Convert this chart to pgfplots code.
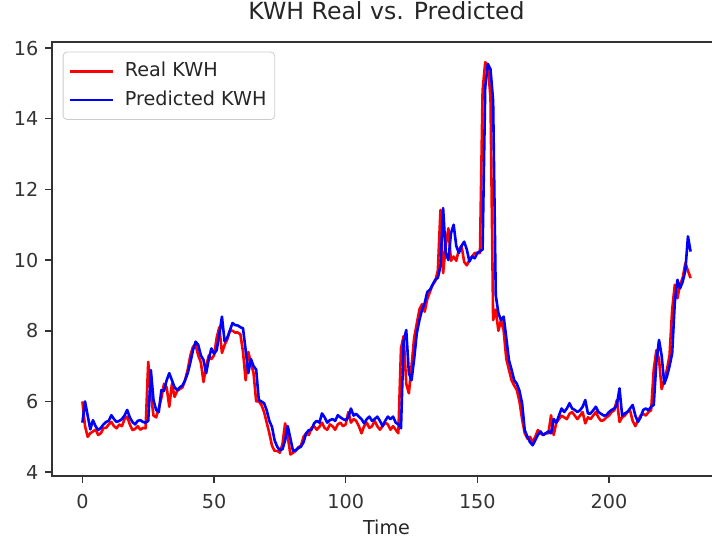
\documentclass[border=0pt]{standalone}
\usepackage{pgfplots}
\pgfplotsset{compat=1.18}
\usepackage{pgfplotstable}
\usepackage{fontspec}
\setmainfont{DejaVu Sans}
\pgfplotstableread{
t real pred
0 6.00 5.40
1 5.30 6.00
2 5.00 5.60
3 5.10 5.21
4 5.15 5.47
5 5.20 5.30
6 5.05 5.19
7 5.10 5.25
8 5.25 5.35
9 5.25 5.42
10 5.35 5.45
11 5.42 5.61
12 5.30 5.50
13 5.24 5.42
14 5.35 5.45
15 5.30 5.50
16 5.50 5.60
17 5.57 5.76
18 5.35 5.55
19 5.19 5.42
20 5.22 5.35
21 5.30 5.45
22 5.20 5.47
23 5.25 5.42
24 5.24 5.40
25 7.12 5.45
26 6.20 6.89
27 5.60 6.04
28 5.55 5.76
29 5.80 5.70
30 6.10 6.32
31 6.50 6.30
32 6.40 6.60
33 5.85 6.80
34 6.50 6.60
35 6.13 6.40
36 6.30 6.32
37 6.35 6.40
38 6.40 6.45
39 6.60 6.60
40 6.90 6.80
41 7.30 7.10
42 7.55 7.45
43 7.60 7.69
44 7.30 7.60
45 7.10 7.30
46 6.55 7.17
47 7.00 6.80
48 7.30 7.20
49 7.20 7.50
50 7.30 7.35
51 7.80 7.45
52 8.10 7.90
53 7.37 8.40
54 7.60 7.70
55 7.75 7.80
56 8.00 8.00
57 8.00 8.22
58 7.95 8.16
59 7.95 8.15
60 7.90 8.10
61 7.40 8.07
62 6.60 7.45
63 7.40 6.80
64 7.10 7.20
65 6.80 7.00
66 6.00 6.90
67 6.00 6.04
68 5.90 6.00
69 5.70 5.95
70 5.40 5.75
71 5.10 5.45
72 4.75 5.28
73 4.60 4.90
74 4.60 4.72
75 4.55 4.62
76 4.80 4.65
77 5.38 4.90
78 5.00 5.30
79 4.50 4.95
80 4.55 4.60
81 4.60 4.62
82 4.70 4.68
83 4.75 4.72
84 5.00 4.85
85 5.10 5.10
86 5.05 5.19
87 5.25 5.20
88 5.30 5.38
89 5.20 5.45
90 5.28 5.40
91 5.40 5.66
92 5.25 5.55
93 5.20 5.40
94 5.35 5.47
95 5.30 5.50
96 5.20 5.45
97 5.35 5.61
98 5.40 5.55
99 5.30 5.50
100 5.35 5.47
101 5.70 5.55
102 5.40 5.80
103 5.50 5.60
104 5.45 5.65
105 5.30 5.57
106 5.10 5.50
107 5.30 5.38
108 5.40 5.50
109 5.25 5.57
110 5.30 5.45
111 5.45 5.50
112 5.30 5.57
113 5.20 5.45
114 5.30 5.30
115 5.40 5.45
116 5.35 5.57
117 5.20 5.50
118 5.30 5.57
119 5.20 5.40
120 5.10 5.35
121 7.50 5.24
122 7.85 7.70
123 6.50 8.02
124 6.23 6.80
125 7.00 6.60
126 7.80 7.20
127 8.20 7.93
128 8.60 8.30
129 8.75 8.60
130 8.54 8.78
131 8.90 9.10
132 9.10 9.16
133 9.30 9.30
134 9.40 9.44
135 9.70 9.50
136 11.42 9.82
137 9.63 11.47
138 10.40 10.20
139 10.90 10.00
140 9.98 10.76
141 10.10 11.00
142 9.98 10.40
143 10.30 10.20
144 10.40 10.40
145 9.95 10.52
146 9.85 10.30
147 10.00 9.96
148 10.10 10.10
149 10.20 10.05
150 10.20 10.20
151 10.20 10.25
152 14.80 10.30
153 15.60 14.90
154 15.50 15.55
155 14.60 15.40
156 8.30 14.50
157 8.60 9.00
158 8.00 8.50
159 8.30 8.30
160 8.00 8.40
161 7.20 7.80
162 6.90 7.17
163 6.60 6.90
164 6.45 6.60
165 6.32 6.50
166 6.00 6.30
167 5.50 5.95
168 5.10 5.19
169 4.95 5.00
170 5.00 4.85
171 4.85 4.76
172 5.00 4.90
173 5.19 5.05
174 5.10 5.15
175 5.05 5.05
176 5.10 5.10
177 5.10 5.15
178 5.61 5.10
179 5.05 5.50
180 5.40 5.40
181 5.50 5.60
182 5.60 5.80
183 5.55 5.70
184 5.50 5.80
185 5.65 5.95
186 5.70 5.80
187 5.60 5.76
188 5.50 5.70
189 5.60 5.75
190 5.70 5.85
191 5.38 6.04
192 5.55 5.66
193 5.50 5.66
194 5.60 5.75
195 5.70 5.85
196 5.55 5.70
197 5.45 5.65
198 5.47 5.60
199 5.55 5.61
200 5.60 5.70
201 5.70 5.76
202 5.75 5.80
203 6.04 5.90
204 5.42 6.37
205 5.55 5.60
206 5.60 5.66
207 5.70 5.70
208 5.75 5.80
209 5.45 5.90
210 5.30 5.60
211 5.45 5.42
212 5.60 5.55
213 5.65 5.76
214 5.60 5.80
215 5.70 5.75
216 5.75 5.85
217 6.90 5.90
218 7.45 7.10
219 7.20 7.74
220 6.35 7.30
221 6.60 6.50
222 6.90 6.70
223 7.30 7.00
224 8.60 7.36
225 9.30 8.80
226 8.92 9.44
227 9.30 9.20
228 9.50 9.39
229 9.91 9.70
230 9.70 10.67
231 9.49 10.24
}\kwh
\begin{document}
\begin{tikzpicture}
\begin{axis}[
  scale only axis,
  width=334.5pt, height=217pt,
  xmin=-11.55, xmax=242.55,
  ymin=3.89, ymax=16.17,
  xtick={0,50,100,150,200},
  ytick={4,6,8,10,12,14,16},
  tick align=outside,
  xtick pos=lower, ytick pos=lower,
  major tick length=3.35pt,
  tick style={black!80, line width=0.75pt},
  axis line style={black!80, line width=0.75pt},
  /pgf/number format/assume math mode=true,
  ticklabel style={font=\fontsize{9.6}{11}\selectfont, text=black!80},
  xticklabel style={yshift=-2pt},
  title={KWH Real vs. Predicted},
  title style={font=\fontsize{11.8}{13}\selectfont, text=black!85, at={(0.5,1)}, anchor=base, yshift=5.2pt},
  xlabel={Time},
  xlabel style={font=\fontsize{9.6}{11}\selectfont, text=black!85, at={(0.5,0)}, anchor=base, yshift=-29pt},
  legend style={at={(0.016,0.978)}, anchor=north west, draw=black!20, rounded corners=2pt, fill=white,
    font=\fontsize{9.6}{11}\selectfont, text=black!85, inner xsep=2.6pt, inner ysep=3.2pt, row sep=1.4pt,
    nodes={inner sep=1.5pt, text depth=0.25em, text height=0.75em}},
  legend cell align=left,
  legend image code/.code={\draw[#1] (0pt,0pt) -- (21.5pt,0pt); \path (25.5pt,0pt);},
]
\addplot[red, line width=1.3pt, line join=round] table[x=t, y=real] {\kwh};
\addlegendentry{Real KWH}
\addplot[blue, line width=1.3pt, line join=round] table[x=t, y=pred] {\kwh};
\addlegendentry{Predicted KWH}
\end{axis}
\pgfresetboundingbox
\path (current axis.south west) ++(-26pt,-31pt) rectangle ++(356pt,269pt);
\end{tikzpicture}
\end{document}
